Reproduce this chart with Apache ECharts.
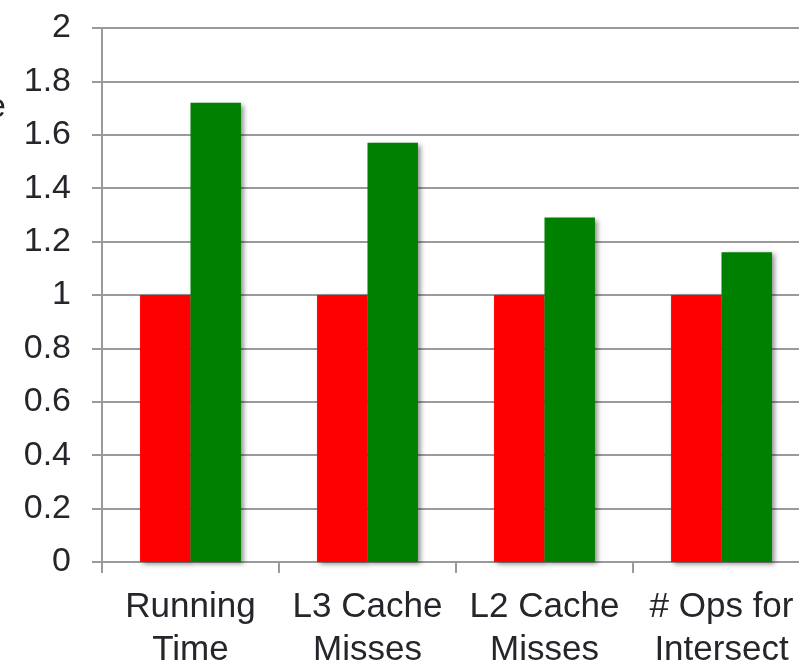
<!DOCTYPE html>
<html>
<head>
<meta charset="utf-8">
<script src="https://cdn.jsdelivr.net/npm/echarts@6/dist/echarts.min.js"></script>
<style>
  html, body { margin: 0; padding: 0; background: #ffffff; }
  #chart { width: 799px; height: 664px; }
</style>
</head>
<body>
<div id="chart"></div>
<script>
// Metric categories along the x axis
const categories = ['Running\nTime', 'L3 Cache\nMisses', 'L2 Cache\nMisses', '# Ops for\nIntersect'];
// Baseline (normalised to 1) and comparison values
const baselineValues = [1, 1, 1, 1];
const comparisonValues = [1.72, 1.57, 1.29, 1.16];
// Y axis range and step
const yMin = 0;
const yMax = 2;
const yStep = 0.2;

const chart = echarts.init(document.getElementById('chart'), null, { renderer: 'canvas' });

const fontFamily = 'Liberation Sans, Arial, sans-serif';
const textColor = '#25252b';
const lineColor = '#9a9a9a';

const barShadow = {
  shadowColor: 'rgba(0,0,0,0.45)',
  shadowBlur: 5,
  shadowOffsetX: 3,
  shadowOffsetY: 2
};

chart.setOption({
  animation: false,
  backgroundColor: '#ffffff',
  grid: { left: 102, top: 28, width: 708, height: 534, containLabel: false, outerBoundsMode: 'none' },
  graphic: [{
    type: 'text',
    right: 793,
    top: 91,
    style: { text: 'Relative', font: '34px ' + fontFamily, fill: textColor, textAlign: 'right' }
  }],
  xAxis: {
    type: 'category',
    data: categories,
    axisLine: { show: true, lineStyle: { color: lineColor, width: 2 } },
    axisTick: { show: true, length: 11, lineStyle: { color: lineColor, width: 2 } },
    axisLabel: {
      color: textColor,
      fontFamily: fontFamily,
      fontSize: 35,
      lineHeight: 43,
      margin: 24,
      interval: 0
    }
  },
  yAxis: {
    type: 'value',
    min: yMin,
    max: yMax,
    interval: yStep,
    axisLine: { show: true, lineStyle: { color: lineColor, width: 2 } },
    axisTick: { show: true, length: 10, lineStyle: { color: lineColor, width: 2 } },
    splitLine: { show: true, lineStyle: { color: lineColor, width: 2 } },
    axisLabel: {
      color: textColor,
      fontFamily: fontFamily,
      fontSize: 34,
      margin: 31,
      formatter: v => String(Math.round(v * 10) / 10)
    }
  },
  series: [
    {
      type: 'bar',
      data: baselineValues,
      barWidth: '28.5%',
      barGap: '0%',
      itemStyle: Object.assign({ color: '#ff0000' }, barShadow)
    },
    {
      type: 'bar',
      data: comparisonValues,
      barWidth: '28.5%',
      barGap: '0%',
      itemStyle: Object.assign({ color: '#008000' }, barShadow)
    }
  ]
});
</script>
</body>
</html>
